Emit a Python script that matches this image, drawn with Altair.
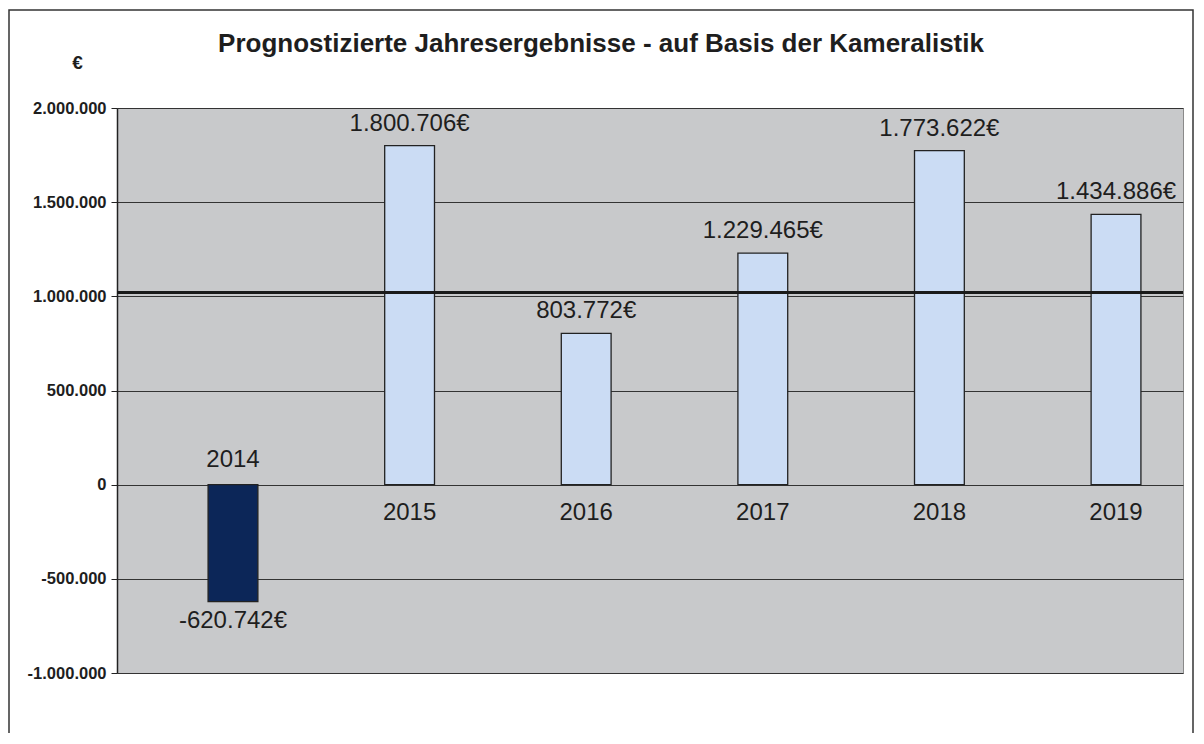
import altair as alt
import pandas as pd

# ---- data ----
years = ["2014", "2015", "2016", "2017", "2018", "2019"]
values = [-620742, 1800706, 803772, 1229465, 1773622, 1434886]
reference_value = [1021000]
y_ticks = [-1000000, -500000, 0, 500000, 1000000, 1500000, 2000000]
title_text = "Prognostizierte Jahresergebnisse - auf Basis der Kameralistik"
y_title = "€"

df = pd.DataFrame({"year": years, "value": values})
ref_df = pd.DataFrame({"value": reference_value})
frame_df = pd.DataFrame({"k": [0]})

FONT = "Liberation Sans"
TXT = "#1e1e1e"
NAVY = "#0c2658"
LIGHT = "#cbdcf4"

de_num = "join(split(format(abs(datum.value), ','), ','), '.')"
label_expr = "(datum.value < 0 ? '-' : '') + " + de_num

xscale = alt.Scale(domain=years, paddingInner=0.718, paddingOuter=0.377, align=0.684)
yscale = alt.Scale(domain=[-1000000, 2000000], nice=False)

x_enc = alt.X("year:N", scale=xscale, axis=None, sort=years)

base = alt.Chart(df).transform_calculate(
    label=label_expr + " + '€'"
)

bars = base.mark_bar(stroke="#222222", strokeWidth=1.3).encode(
    x=x_enc,
    y=alt.Y(
        "value:Q",
        scale=yscale,
        axis=alt.Axis(
            values=y_ticks,
            labelExpr=label_expr,
            title=y_title,
            titleAngle=0,
            titleX=-40,
            titleY=-46,
            titleAlign="center",
            titleBaseline="middle",
            titleFontSize=19,
            titleFontWeight="bold",
            titleColor=TXT,
            labelFontWeight="bold",
            labelFontSize=16.5,
            labelColor=TXT,
            labelPadding=5,
            tickSize=6,
            tickColor="#222222",
            domainColor="#222222",
            domainWidth=1.5,
            grid=True,
            gridColor="#333333",
            gridWidth=1,
        ),
    ),
    y2=alt.datum(0),
    color=alt.condition(alt.datum.value < 0, alt.value(NAVY), alt.value(LIGHT)),
)

ref_rule = alt.Chart(ref_df).mark_rule(color="#1a1a1a", strokeWidth=3).encode(
    y=alt.Y("value:Q", scale=yscale)
)

val_pos = base.transform_filter("datum.value >= 0").mark_text(
    fontSize=24, font=FONT, color=TXT, baseline="middle", dy=-22
).encode(x=x_enc, y=alt.Y("value:Q", scale=yscale), text="label:N")

val_neg = base.transform_filter("datum.value < 0").mark_text(
    fontSize=24, font=FONT, color=TXT, baseline="middle", dy=19
).encode(x=x_enc, y=alt.Y("value:Q", scale=yscale), text="label:N")

year_neg = base.transform_filter("datum.value < 0").mark_text(
    fontSize=24, font=FONT, color=TXT, baseline="middle", dy=-25
).encode(x=x_enc, y=alt.datum(0), text="year:N")

year_pos = base.transform_filter("datum.value >= 0").mark_text(
    fontSize=24, font=FONT, color=TXT, baseline="middle", dy=28
).encode(x=x_enc, y=alt.datum(0), text="year:N")

frame = alt.Chart(frame_df).mark_rect(
    filled=False, stroke="#333333", strokeWidth=1.5, clip=False
).encode(
    x=alt.value(-108), x2=alt.value(1076), y=alt.value(-98), y2=alt.value(660)
)

chart = (
    alt.layer(bars, ref_rule, val_pos, val_neg, year_neg, year_pos, frame)
    .properties(
        width=1066,
        height=565,
        autosize=alt.AutoSizeParams(type="none"),
        padding={"left": 109, "top": 100, "right": 12, "bottom": 60},
        title=alt.TitleParams(
            title_text,
            fontSize=26,
            fontWeight="bold",
            font=FONT,
            color=TXT,
            anchor="middle",
            dx=-49,
            offset=-48,
        ),
    )
    .configure(font=FONT, background="white")
    .configure_view(fill="#c8c9cb", stroke="#8a8a8a", strokeWidth=1)
)

chart.save("out.html", embed_options={"renderer": "svg", "actions": False})
